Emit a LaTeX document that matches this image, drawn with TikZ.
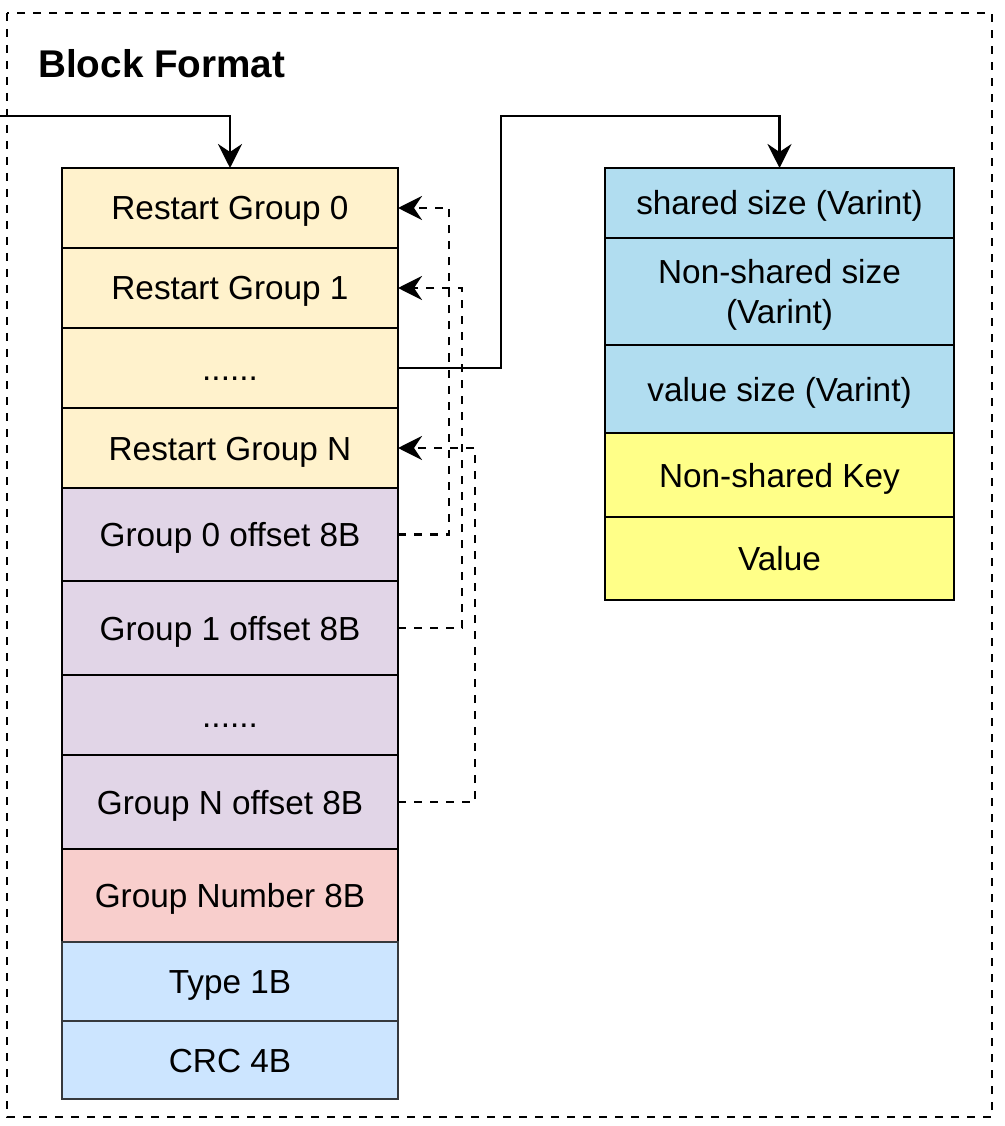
\documentclass[tikz,border=0pt]{standalone}
\usepackage{fontspec}
\setmainfont{Liberation Sans}
\usetikzlibrary{arrows.meta}
\definecolor{cRestart}{HTML}{FFF2CC}
\definecolor{cOffset}{HTML}{E1D5E7}
\definecolor{cNumber}{HTML}{F8CECC}
\definecolor{cType}{HTML}{CCE5FF}
\definecolor{cTypeLine}{HTML}{36393D}
\definecolor{cSize}{HTML}{B1DDF0}
\definecolor{cKey}{HTML}{FFFF88}
\tikzset{
  cell/.style={draw=black, line width=2.2pt, inner sep=0pt, outer sep=0pt,
    align=center, font=\fontsize{25}{30}\selectfont, text height=18pt, text depth=0pt},
  leftcell/.style={cell, minimum width=252pt},
  rightcell/.style={cell, minimum width=261.75pt},
  link/.style={line width=2.2pt, -{Stealth[length=18pt,width=18pt,inset=6pt]}},
  dlink/.style={link, dash pattern=on 6pt off 6pt},
  frame/.style={line width=2.2pt, dash pattern=on 6pt off 6pt},
}
\begin{document}
\begin{tikzpicture}[x=0.75pt,y=-0.75pt]
\useasboundingbox (0,0) rectangle (1004,1126);
\fill[white] (0,0) rectangle (1004,1126);
\draw[frame] (7,13) rectangle (992,1117);
\node[anchor=base west, inner sep=0pt, font=\bfseries\fontsize{29}{34}\selectfont] (title) at (38,78) {Block Format};

% left column
\node[leftcell, fill=cRestart, minimum height=60pt] (r0) at (230,208) {Restart Group 0};
\node[leftcell, fill=cRestart, minimum height=60pt] (r1) at (230,288) {Restart Group 1};
\node[leftcell, fill=cRestart, minimum height=60pt] (r2) at (230,368) {......};
\node[leftcell, fill=cRestart, minimum height=60pt] (r3) at (230,448) {Restart Group N};
\node[leftcell, fill=cOffset, minimum height=69.75pt] (o0) at (230,534.5) {Group 0 offset 8B};
\node[leftcell, fill=cOffset, minimum height=70.5pt] (o1) at (230,628) {Group 1 offset 8B};
\node[leftcell, fill=cOffset, minimum height=60pt] (o2) at (230,715) {......};
\node[leftcell, fill=cOffset, minimum height=70.5pt] (o3) at (230,802) {Group N offset 8B};
\node[leftcell, fill=cNumber, minimum height=69.75pt] (gn) at (230,895.5) {Group Number 8B};
\node[leftcell, fill=cType, draw=cTypeLine, minimum height=59.25pt] (ty) at (230,981.5) {Type 1B};
\node[leftcell, fill=cType, draw=cTypeLine, minimum height=58.5pt] (crc) at (230,1060) {CRC 4B};

% right column
\node[rightcell, fill=cSize, minimum height=52.5pt] (s0) at (779.5,203) {shared size (Varint)};
\node[rightcell, fill=cSize, minimum height=80.25pt, text height=48pt, text depth=0pt] (s1) at (779.5,291.5) {Non-shared size\\(Varint)};
\node[rightcell, fill=cSize, minimum height=66pt] (s2) at (779.5,389) {value size (Varint)};
\node[rightcell, fill=cKey, minimum height=63pt] (s3) at (779.5,475) {Non-shared Key};
\node[rightcell, fill=cKey, minimum height=62.25pt] (s4) at (779.5,558.5) {Value};

% solid connectors
\coordinate (in) at (0,116);
\draw[link] (in) -| (r0.north);
\draw[link] (r2.east) -- ++(103,0) |- (s0.north |- in) -- (s0.north);

% dashed connectors
\draw[dlink] (o0.east) -- ++(51,0) |- (r0.east);
\draw[dlink] (o1.east) -- ++(64,0) |- (r1.east);
\draw[dlink] (o3.east) -- ++(77,0) |- (r3.east);
\end{tikzpicture}
\end{document}
